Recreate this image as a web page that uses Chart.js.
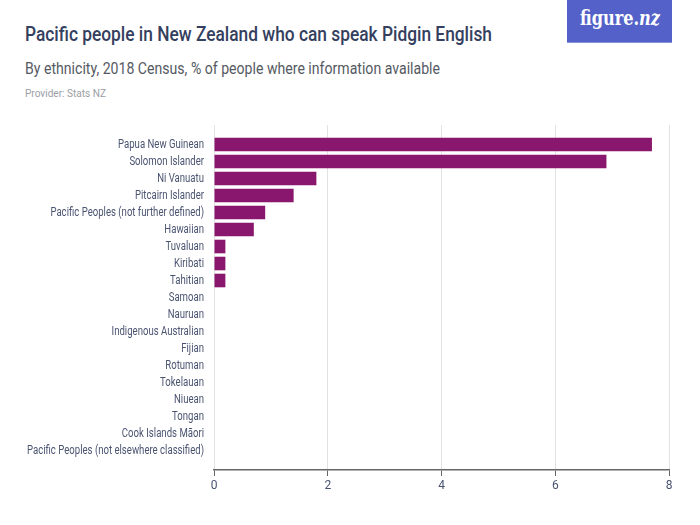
<!DOCTYPE html>
<html>
<head>
<meta charset="utf-8">
<script src="https://cdn.jsdelivr.net/npm/chart.js@4"></script>
<style>
  body { margin: 0; width: 700px; height: 525px; background: #fff; position: relative; overflow: hidden; font-family: Roboto, sans-serif; }
  .fit { position: absolute; left: 25px; white-space: nowrap; transform-origin: 0 0; }
  #title { top: 22px; font-size: 21px; font-weight: 500; color: #34405e; }
  #subtitle { top: 58px; font-size: 17px; color: #555a63; }
  #provider { top: 87px; font-size: 11px; color: #9a9ea6; }
  #logo { position: absolute; left: 567px; top: 0; width: 105px; height: 42px; background: #5361c8; border-bottom: 1px solid #8a93dc; }
  #logo span { position: absolute; left: 13px; top: 6px; color: #fff; font-family: "DejaVu Serif", serif; font-weight: bold; font-size: 20px; white-space: nowrap; transform-origin: 0 0; }
  #wrap { position: absolute; left: 0; top: 110px; width: 700px; height: 400px; }
</style>
</head>
<body>
<div id="title" class="fit" data-w="467">Pacific people in New Zealand who can speak Pidgin English</div>
<div id="subtitle" class="fit" data-w="415">By ethnicity, 2018 Census, % of people where information available</div>
<div id="provider" class="fit" data-w="81">Provider: Stats NZ</div>
<div id="logo"><span class="logotext" data-w="80">figure.<i>nz</i></span></div>
<div id="wrap"><canvas id="chart" width="700" height="400"></canvas></div>
<script>
// values
const categories = [
  "Papua New Guinean",
  "Solomon Islander",
  "Ni Vanuatu",
  "Pitcairn Islander",
  "Pacific Peoples (not further defined)",
  "Hawaiian",
  "Tuvaluan",
  "Kiribati",
  "Tahitian",
  "Samoan",
  "Nauruan",
  "Indigenous Australian",
  "Fijian",
  "Rotuman",
  "Tokelauan",
  "Niuean",
  "Tongan",
  "Cook Islands Māori",
  "Pacific Peoples (not elsewhere classified)"
];
const percentSpeakers = [7.7, 6.9, 1.8, 1.4, 0.9, 0.7, 0.2, 0.2, 0.2, 0, 0, 0, 0, 0, 0, 0, 0, 0, 0];
const xTicks = [0, 2, 4, 6, 8];

const textColor = "#4a5471";

// the reference uses a narrow grotesk; squeeze the text to the same widths
document.querySelectorAll(".fit, .logotext").forEach((el) => {
  const w = el.getBoundingClientRect().width;
  el.style.transform = "scaleX(" + (Number(el.dataset.w) / w) + ")";
});

// y labels drawn narrow, positioned from the y scale
const narrowLabels = {
  id: "narrowLabels",
  afterDraw(chart) {
    const ctx = chart.ctx;
    const y = chart.scales.y;
    ctx.save();
    ctx.font = "12.5px Roboto, sans-serif";
    const squeeze = 177 / ctx.measureText(categories[categories.length - 1]).width;
    ctx.fillStyle = textColor;
    ctx.textAlign = "right";
    ctx.textBaseline = "middle";
    categories.forEach((c, i) => {
      ctx.save();
      ctx.translate(y.right - 10, y.getPixelForValue(i));
      ctx.scale(squeeze, 1);
      ctx.fillText(c, 0, 0);
      ctx.restore();
    });
    ctx.restore();
  }
};

new Chart(document.getElementById("chart"), {
  type: "bar",
  data: {
    datasets: [{
      data: percentSpeakers.map((v, i) => ({ x: v, y: i })),
      backgroundColor: "#88176d",
      borderWidth: 0,
      barPercentage: 1,
      categoryPercentage: 0.8
    }]
  },
  options: {
    indexAxis: "y",
    responsive: false,
    animation: false,
    layout: { padding: { top: 15, right: 31, left: 0, bottom: 0 } },
    plugins: { legend: { display: false }, tooltip: { enabled: false } },
    scales: {
      x: {
        type: "linear",
        min: 0,
        max: 8,
        afterBuildTicks: (scale) => { scale.ticks = xTicks.map((v) => ({ value: v })); },
        afterFit: (scale) => { scale.height = 40; },
        grid: { color: "#e2e2e2", lineWidth: 1, tickLength: 6, tickColor: "#666" },
        border: { color: "#666", width: 1.5 },
        ticks: { color: textColor, font: { family: "Roboto, sans-serif", size: 12 }, padding: 3 }
      },
      y: {
        type: "linear",
        reverse: true,
        offset: false,
        min: -1.15,
        max: 19.15,
        afterFit: (scale) => { scale.width = 214; },
        grid: { display: false },
        border: { display: false },
        ticks: { display: false }
      }
    }
  },
  plugins: [narrowLabels]
});
</script>
</body>
</html>
